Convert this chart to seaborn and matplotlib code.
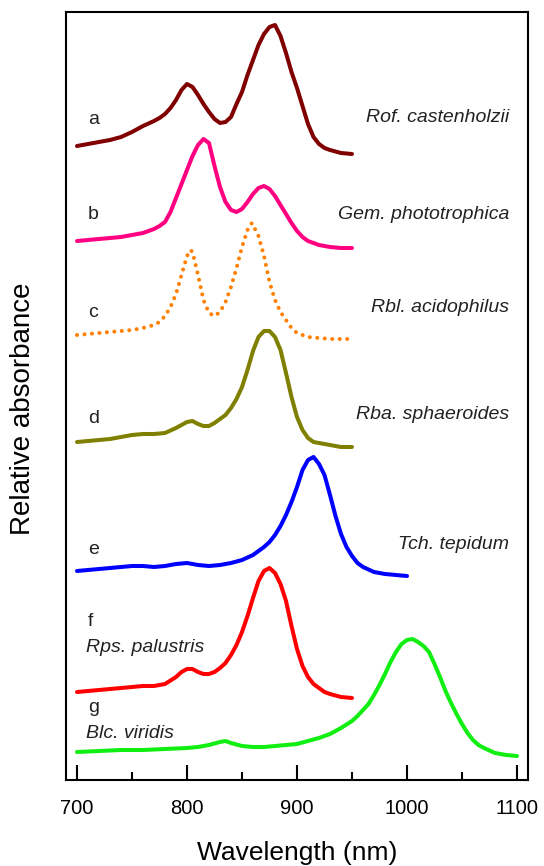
import pandas as pd
import matplotlib
matplotlib.use("Agg")
import matplotlib.pyplot as plt
import seaborn as sns
from matplotlib.ticker import MultipleLocator

# Espectros (valores empilhados)
wl_a = [700, 710, 720, 730, 740, 750, 760, 770, 775, 780, 785, 790, 795, 800, 805, 810, 815, 820,
        825, 830, 835, 840, 845, 850, 855, 860, 865, 870, 875, 880, 885, 890, 895, 900, 905, 910,
        915, 920, 925, 930, 940, 950]
abs_a = [6.34, 6.36, 6.38, 6.40, 6.43, 6.48, 6.54, 6.59, 6.62, 6.66, 6.72, 6.80, 6.90, 6.96, 6.93, 6.85, 6.76, 6.68,
         6.61, 6.57, 6.58, 6.63, 6.76, 6.88, 7.05, 7.20, 7.35, 7.46, 7.53, 7.55, 7.44, 7.27, 7.08, 6.92, 6.74, 6.56,
         6.43, 6.36, 6.32, 6.30, 6.27, 6.26]

wl_b = [700, 710, 720, 730, 740, 750, 760, 770, 775, 780, 785, 790, 795, 800, 805, 810, 815, 820,
        825, 830, 835, 840, 845, 850, 855, 860, 865, 870, 875, 880, 885, 890, 895, 900, 905, 910,
        920, 930, 940, 950]
abs_b = [5.39, 5.40, 5.41, 5.42, 5.43, 5.45, 5.47, 5.51, 5.54, 5.58, 5.68, 5.82, 5.96, 6.10, 6.24, 6.35, 6.41, 6.37,
         6.14, 5.93, 5.78, 5.70, 5.68, 5.71, 5.78, 5.86, 5.92, 5.94, 5.91, 5.84, 5.75, 5.66, 5.57, 5.49, 5.43, 5.39,
         5.35, 5.33, 5.32, 5.32]

wl_c = [700, 710, 720, 730, 740, 750, 760, 770, 775, 780, 785, 790, 795, 800, 803, 805, 810, 815,
        820, 825, 830, 835, 840, 845, 850, 855, 859, 865, 870, 875, 880, 885, 890, 895, 900, 910,
        920, 930, 940, 950]
abs_c = [4.45, 4.46, 4.47, 4.48, 4.49, 4.50, 4.52, 4.55, 4.58, 4.64, 4.73, 4.86, 5.05, 5.24, 5.30, 5.28, 5.05, 4.80,
         4.67, 4.64, 4.68, 4.78, 4.93, 5.12, 5.33, 5.50, 5.57, 5.44, 5.24, 4.98, 4.80, 4.68, 4.60, 4.52, 4.47, 4.43,
         4.42, 4.41, 4.41, 4.41]

wl_d = [700, 710, 720, 730, 740, 750, 760, 770, 780, 790, 795, 800, 805, 810, 815, 820, 825, 830,
        835, 840, 845, 850, 855, 860, 865, 870, 875, 880, 885, 890, 895, 900, 905, 910, 915, 920,
        930, 940, 950]
abs_d = [3.38, 3.39, 3.40, 3.41, 3.43, 3.45, 3.46, 3.46, 3.47, 3.52, 3.55, 3.58, 3.59, 3.56, 3.54, 3.54, 3.57, 3.61,
         3.65, 3.72, 3.81, 3.93, 4.10, 4.29, 4.43, 4.49, 4.49, 4.43, 4.30, 4.07, 3.83, 3.63, 3.50, 3.42, 3.38, 3.37,
         3.35, 3.33, 3.33]

wl_e = [700, 710, 720, 730, 740, 750, 760, 770, 780, 790, 800, 810, 820, 830, 840, 850, 860,
        865, 870, 875, 880, 885, 890, 895, 900, 905, 910, 915, 920, 925, 930, 935, 940, 945, 950,
        955, 960, 970, 980, 990, 1000]
abs_e = [2.09, 2.10, 2.11, 2.12, 2.13, 2.14, 2.14, 2.13, 2.14, 2.16, 2.17, 2.15, 2.14, 2.15, 2.17, 2.20, 2.25,
         2.29, 2.33, 2.38, 2.45, 2.54, 2.65, 2.78, 2.93, 3.10, 3.20, 3.23, 3.16, 3.05, 2.85, 2.64, 2.46, 2.33, 2.24,
         2.17, 2.13, 2.08, 2.06, 2.05, 2.04]

wl_f = [700, 710, 720, 730, 740, 750, 760, 770, 780, 790, 795, 800, 805, 810, 815, 820, 825, 830,
        835, 840, 845, 850, 855, 860, 865, 870, 875, 880, 885, 890, 895, 900, 905, 910, 915, 920,
        925, 930, 940, 950]
abs_f = [0.88, 0.89, 0.90, 0.91, 0.92, 0.93, 0.94, 0.94, 0.96, 1.03, 1.08, 1.11, 1.11, 1.08, 1.06, 1.06, 1.08, 1.12,
         1.17, 1.25, 1.35, 1.48, 1.64, 1.82, 1.99, 2.09, 2.12, 2.07, 1.96, 1.79, 1.54, 1.31, 1.14, 1.03, 0.96, 0.92,
         0.88, 0.86, 0.83, 0.82]

wl_g = [700, 720, 740, 760, 780, 800, 810, 820, 830, 835, 840, 850, 860, 870, 880, 890, 900,
        910, 920, 930, 940, 950, 955, 960, 965, 970, 975, 980, 985, 990, 995, 1000, 1005, 1010,
        1015, 1020, 1025, 1030, 1035, 1040, 1045, 1050, 1055, 1060, 1065, 1070, 1080, 1090, 1100]
abs_g = [0.28, 0.29, 0.30, 0.30, 0.31, 0.32, 0.33, 0.35, 0.38, 0.39, 0.37, 0.34, 0.33, 0.33, 0.34, 0.35, 0.36,
         0.39, 0.42, 0.46, 0.52, 0.59, 0.64, 0.70, 0.76, 0.85, 0.95, 1.06, 1.18, 1.28, 1.36, 1.40, 1.41, 1.38,
         1.34, 1.28, 1.16, 1.03, 0.89, 0.77, 0.66, 0.56, 0.47, 0.40, 0.35, 0.32, 0.27, 0.25, 0.24]

letras = ["a", "b", "c", "d", "e", "f", "g"]
especies = ["Rof. castenholzii", "Gem. phototrophica", "Rbl. acidophilus", "Rba. sphaeroides",
            "Tch. tepidum", "Rps. palustris", "Blc. viridis"]
cores = ["#800000", "#ff0080", "#ff8000", "#808000", "#0000ff", "#ff0000", "#11ee11"]

espectros = [(wl_a, abs_a), (wl_b, abs_b), (wl_c, abs_c), (wl_d, abs_d),
             (wl_e, abs_e), (wl_f, abs_f), (wl_g, abs_g)]

sns.set_style("white")
plt.rcParams['font.family'] = ['Liberation Sans', 'DejaVu Sans']

fig = plt.figure(figsize=(5.44, 8.66), dpi=100)
ax = fig.add_axes([66/544, 86/866, 462/544, 768/866])

for i, (wl, ab) in enumerate(espectros):
    df = pd.DataFrame({"wl": wl, "abs": ab})
    if letras[i] == "c":
        sns.lineplot(data=df, x="wl", y="abs", ax=ax, color=cores[i], lw=2.9,
                     linestyle=(0, (0.01, 1.85)), dash_capstyle="round", sort=False, estimator=None)
    else:
        sns.lineplot(data=df, x="wl", y="abs", ax=ax, color=cores[i], lw=2.9,
                     solid_capstyle="round", solid_joinstyle="round", sort=False, estimator=None)

# rótulos
txt = dict(fontsize=14, color="#222222", va="center")
pos_letra = [6.60, 5.65, 4.67, 3.61, 2.30, 1.58, 0.73]
pos_nome = [6.62, 5.65, 4.72, 3.65, 2.35, 1.33, 0.47]
for i in range(7):
    ax.text(710, pos_letra[i], letras[i], **txt)
    if i < 5:
        ax.text(1093, pos_nome[i], especies[i], ha="right", style="italic", **txt)
    else:
        ax.text(708, pos_nome[i], especies[i], ha="left", style="italic", **txt)

ax.set_xlim(690, 1110)
ax.set_ylim(0, 7.68)
ax.xaxis.set_major_locator(MultipleLocator(100))
ax.xaxis.set_minor_locator(MultipleLocator(50))
ax.set_yticks([])
ax.tick_params(axis="x", which="both", direction="in", bottom=True, top=False,
               width=1.5, color="black", labelcolor="black", labelsize=14.5, pad=14)
ax.tick_params(axis="x", which="major", length=11)
ax.tick_params(axis="x", which="minor", length=6)
for s in ax.spines.values():
    s.set_linewidth(1.5)
    s.set_color("black")

ax.set_xlabel("Wavelength (nm)", fontsize=19, va="center", color="black")
ax.set_ylabel("Relative absorbance", fontsize=20, va="center", color="black")
ax.xaxis.set_label_coords(0.5, -0.095)
ax.yaxis.set_label_coords(-0.093, 0.484)

plt.savefig("out.png", dpi=100)
